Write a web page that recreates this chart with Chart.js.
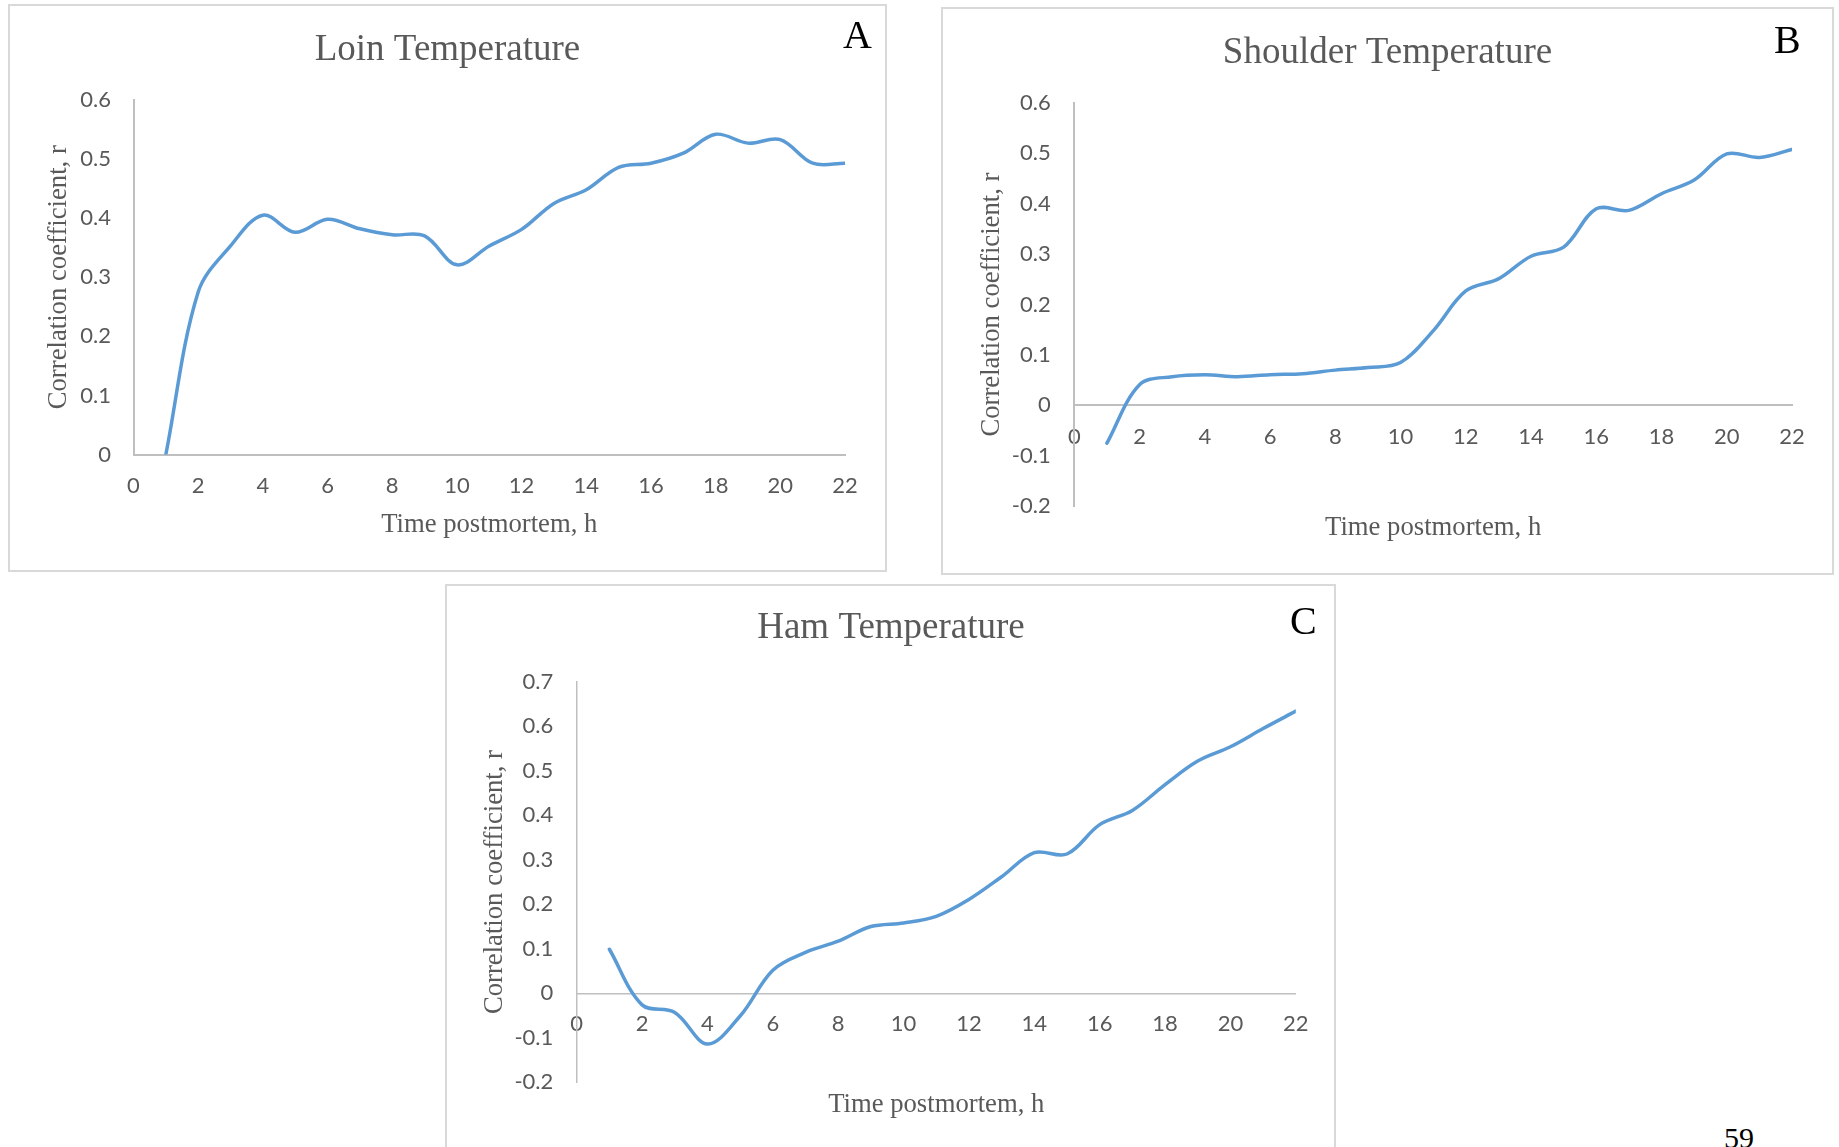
<!DOCTYPE html>
<html>
<head>
<meta charset="utf-8">
<script src="https://cdn.jsdelivr.net/npm/chart.js@4.4.1/dist/chart.umd.min.js"></script>
<style>
html,body{margin:0;padding:0;background:#fff;width:1839px;height:1147px;overflow:hidden;position:relative;}
.panel{position:absolute;box-sizing:border-box;border:2px solid #d9d9d9;pointer-events:none;}
canvas{position:absolute;}
.tag{position:absolute;font-family:'Liberation Serif','Times New Roman',serif;color:#000;font-size:40px;line-height:40px;white-space:nowrap;}
.pnum{position:absolute;font-family:'Liberation Serif','Times New Roman',serif;color:#000;font-size:30px;line-height:30px;}
</style>
</head>
<body>
<div class="panel" style="left:8px;top:4px;width:879px;height:568px;"></div>
<div class="panel" style="left:941px;top:7px;width:893px;height:568px;"></div>
<div class="panel" style="left:445px;top:584px;width:891px;height:600px;"></div>
<canvas id="cA" width="879" height="568" style="left:8px;top:4px;"></canvas>
<canvas id="cB" width="893" height="568" style="left:941px;top:7px;"></canvas>
<canvas id="cC" width="890" height="563" style="left:446px;top:584px;"></canvas>
<div class="tag" style="left:843px;top:15px;">A</div>
<div class="tag" style="left:1774px;top:20px;">B</div>
<div class="tag" style="left:1290px;top:601px;">C</div>
<div class="pnum" style="left:1724px;top:1123px;">59</div>
<script>
// ---- data ----
const hours = [1,2,3,4,5,6,7,8,9,10,11,12,13,14,15,16,17,18,19,20,21,22];
const hourTicks = [0,2,4,6,8,10,12,14,16,18,20,22];
const loinR = [0.0,0.275,0.353,0.405,0.376,0.398,0.382,0.372,0.370,0.321,0.353,0.381,0.425,0.448,0.486,0.493,0.510,0.542,0.527,0.533,0.493,0.493];
const shoulderR = [-0.075,0.041,0.057,0.061,0.057,0.061,0.063,0.070,0.075,0.085,0.148,0.227,0.251,0.296,0.314,0.390,0.387,0.420,0.447,0.499,0.492,0.508];
const hamR = [0.099,-0.026,-0.043,-0.114,-0.051,0.052,0.092,0.117,0.150,0.158,0.173,0.211,0.262,0.316,0.313,0.379,0.411,0.469,0.522,0.554,0.595,0.634];
const loinTicks = [0,0.1,0.2,0.3,0.4,0.5,0.6];
const shoulderTicks = [-0.2,-0.1,0,0.1,0.2,0.3,0.4,0.5,0.6];
const hamTicks = [-0.2,-0.1,0,0.1,0.2,0.3,0.4,0.5,0.6,0.7];
const chartTitles = ['Loin Temperature','Shoulder Temperature','Ham Temperature'];
const xTitle = 'Time postmortem, h';
const yTitle = 'Correlation coefficient, r';

// ---- styles / layout ----
const GRAY = '#595959';
const AXIS = '#BFBFBF';
const LINE = '#5B9BD5';
const SERIF = "'Liberation Serif','Times New Roman',serif";
const SANS = "Lato,'Open Sans',sans-serif";

const specs = [
  {id:'cA', title:chartTitles[0], values:loinR, yTicks:loinTicks, xPos:'bottom',
   pad:{left:42,right:42,top:0,bottom:0}, tPad:{top:23.8,bottom:27.8}, wy:83.5, hx:117.5,
   yTickPad:22.5, xTickPad:18.4, yTitlePad:-7.5, xTitlePad:31.3, axisW:2, targetBottom:450.5},
  {id:'cB', title:chartTitles[1], values:shoulderR, yTicks:shoulderTicks, xPos:{y:0},
   pad:{left:42,right:42,top:0,bottom:68.8}, tPad:{top:24.0,bottom:27.6}, wy:91.3, hx:138.3,
   yTickPad:23.6, xTickPad:18.5, yTitlePad:-7.3, xTitlePad:0, axisW:2, targetBottom:499.2},
  {id:'cC', title:chartTitles[2], values:hamR, yTicks:hamTicks, xPos:{y:0},
   pad:{left:40.2,right:40.2,top:0,bottom:64.7}, tPad:{top:22.4,bottom:31.0}, wy:90.5, hx:127.9,
   yTickPad:23.4, xTickPad:17.9, yTitlePad:-7.0, xTitlePad:0, axisW:1.5, targetBottom:498.3}
];

const fmt = v => String(Math.round(v * 10) / 10);

specs.forEach(s => {
  const yt = s.yTicks;
  const options = {
    responsive:false, animation:false, devicePixelRatio:1,
    layout:{padding:Object.assign({}, s.pad)},
    plugins:{
      legend:{display:false}, tooltip:{enabled:false},
      title:{display:true, text:s.title, color:GRAY, font:{family:SERIF, size:37, weight:'normal', lineHeight:1.2}, padding:s.tPad}
    },
    scales:{
      x:{type:'linear', position:s.xPos, min:0, max:22,
         afterBuildTicks: sc => { sc.ticks = hourTicks.map(v => ({value:v})); },
         afterFit: sc => { sc.height = s.hx; },
         grid:{display:false, drawTicks:false},
         border:{display:true, color:AXIS, width:s.axisW},
         ticks:{padding:s.xTickPad, autoSkip:false, maxRotation:0, minRotation:0, color:GRAY, font:{family:SANS, size:22, lineHeight:1.2}, callback: v => String(v)},
         title:{display:true, text:xTitle, color:GRAY, font:{family:SERIF, size:26.7, lineHeight:1.2}, padding:{top:0, bottom:s.xTitlePad}}
      },
      y:{type:'linear', position:'left', min:yt[0], max:yt[yt.length-1],
         afterBuildTicks: sc => { sc.ticks = yt.map(v => ({value:v})); },
         afterFit: sc => { sc.width = s.wy; },
         grid:{display:false, drawTicks:false},
         border:{display:true, color:AXIS, width:s.axisW},
         ticks:{padding:s.yTickPad, color:GRAY, font:{family:SANS, size:22, lineHeight:1.2}, callback: v => fmt(v)},
         title:{display:true, text:yTitle, color:GRAY, font:{family:SERIF, size:26.7, lineHeight:1.2}, padding:{top:s.yTitlePad, bottom:0}}
      }
    }
  };
  const chart = new Chart(document.getElementById(s.id), {
    type:'line',
    data:{datasets:[{
      data: hours.map((h, i) => ({x:h, y:s.values[i]})),
      borderColor:LINE, borderWidth:3.5, tension:0.35, pointRadius:0, fill:false,
      borderCapStyle:'round', borderJoinStyle:'round'
    }]},
    options
  });
  const d = chart.chartArea.bottom - s.targetBottom;
  if (Math.abs(d) > 0.5) {
    options.layout.padding.bottom += d;
    chart.update('none');
  }
});
</script>
</body>
</html>
